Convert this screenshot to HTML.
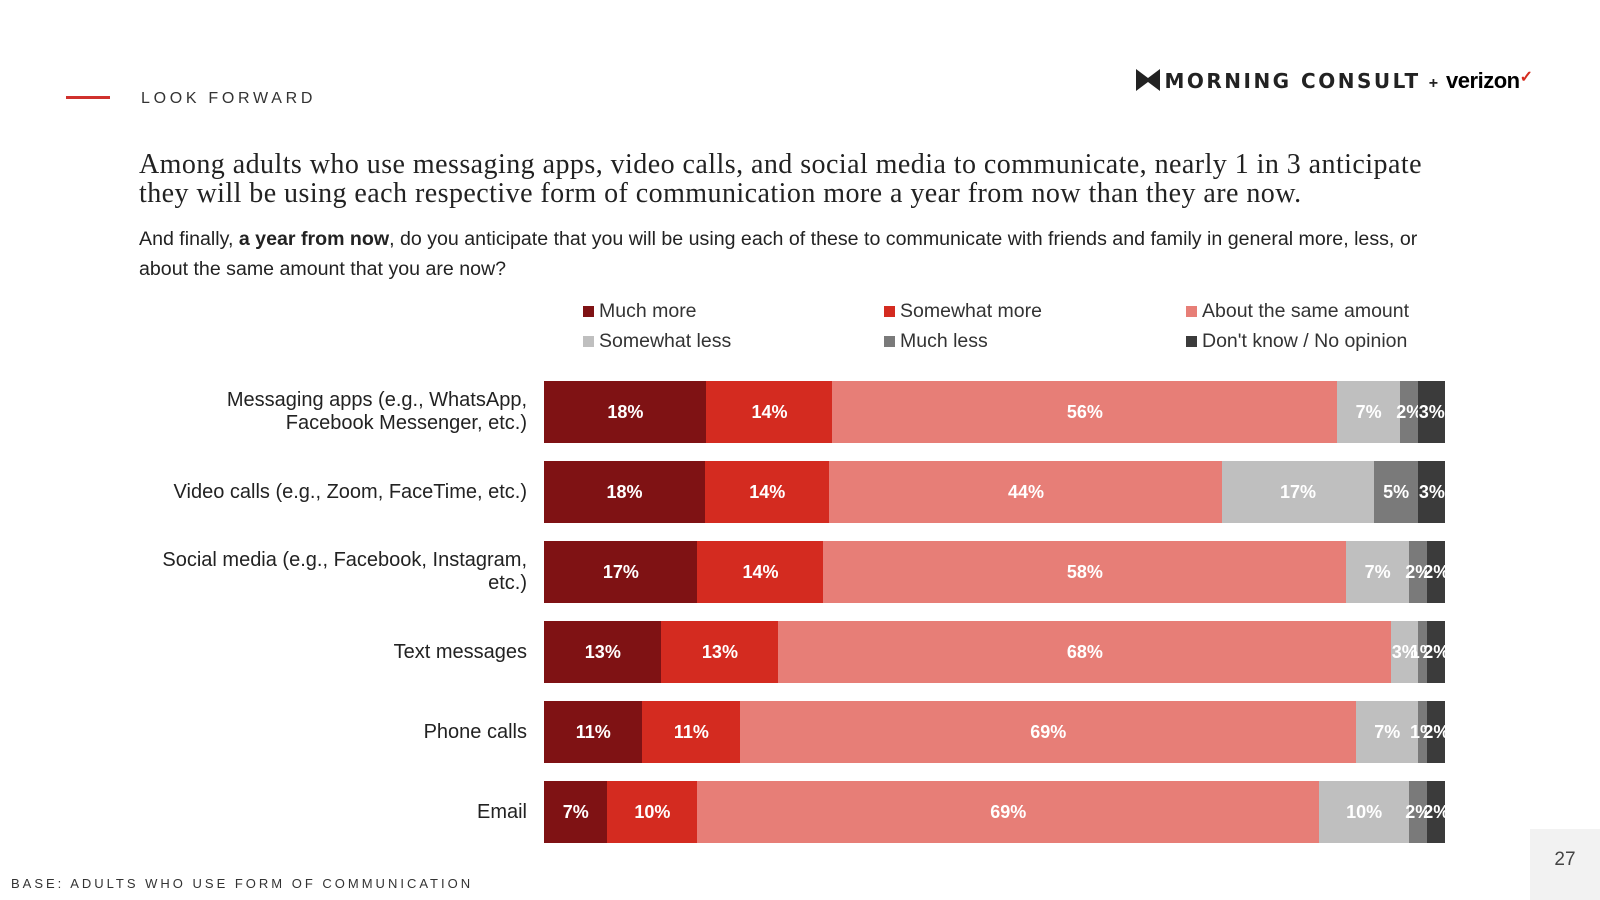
<!DOCTYPE html>
<html><head><meta charset="utf-8"><style>
body{margin:0;width:1600px;height:900px;background:#fff;position:relative;overflow:hidden;font-family:"Liberation Sans",Arial,sans-serif;color:#222}
.abs{position:absolute}
.lg{position:absolute;font-size:19.5px;color:#333;white-space:nowrap}
.lg i{display:inline-block;width:11px;height:11px;margin-right:5px;vertical-align:0px}
.cat{position:absolute;right:1073px;text-align:right;font-size:20px;color:#222;line-height:23px}
</style></head><body>
<div class="abs" style="left:66px;top:96px;width:44px;height:3px;background:#d0312d"></div>
<div class="abs" style="left:141px;top:90px;font-size:16px;letter-spacing:3.7px;color:#333">LOOK FORWARD</div>
<div class="abs" style="left:1136px;top:67px;white-space:nowrap;font-weight:bold;">
<svg width="24" height="22" viewBox="0 0 24 22" style="vertical-align:-3px"><path d="M0 0 L12 9 L24 0 V22 L12 13 L0 22Z" fill="#222"/></svg>
<span style="font-size:20px;letter-spacing:2.5px;color:#222;font-family:'DejaVu Sans',sans-serif">MORNING CONSULT</span><span style="font-size:16px;margin:0 8px">+</span><span style="font-size:22px;letter-spacing:-0.5px;color:#000">verizon</span><span style="color:#d52b1e;font-size:16px;vertical-align:6px">✓</span></div>
<div class="abs" style="left:139px;top:150px;width:1310px;font-family:'Liberation Serif',serif;font-size:28px;line-height:29px;letter-spacing:0.45px;color:#222">Among adults who use messaging apps, video calls, and social media to communicate, nearly 1 in 3 anticipate they will be using each respective form of communication more a year from now than they are now.</div>
<div class="abs" style="left:139px;top:224px;width:1310px;font-size:19.6px;line-height:30px;color:#222">And finally, <b>a year from now</b>, do you anticipate that you will be using each of these to communicate with friends and family in general more, less, or about the same amount that you are now?</div>
<div>
<div class="lg" style="left:583px;top:300px"><i style="background:#7f1214"></i>Much more</div>
<div class="lg" style="left:884px;top:300px"><i style="background:#d42b20"></i>Somewhat more</div>
<div class="lg" style="left:1186px;top:300px"><i style="background:#e77e77"></i>About the same amount</div>
<div class="lg" style="left:583px;top:330px"><i style="background:#bfbfbf"></i>Somewhat less</div>
<div class="lg" style="left:884px;top:330px"><i style="background:#7a7a7a"></i>Much less</div>
<div class="lg" style="left:1186px;top:330px"><i style="background:#3b3b3b"></i>Don't know / No opinion</div>
</div>
<div id="chart"></div>
<div class="abs" style="left:11px;top:876px;font-size:13px;letter-spacing:3px;color:#333">BASE: ADULTS WHO USE FORM OF COMMUNICATION</div>
<div class="abs" style="left:1530px;top:829px;width:70px;height:71px;background:#f2f2f2;font-size:19px;color:#444;text-align:center;line-height:62px">27</div>
<script>
const categories=["Messaging apps (e.g., WhatsApp,<br>Facebook Messenger, etc.)","Video calls (e.g., Zoom, FaceTime, etc.)","Social media (e.g., Facebook, Instagram,<br>etc.)","Text messages","Phone calls","Email"];
const muchMore=[18,18,17,13,11,7];
const somewhatMore=[14,14,14,13,11,10];
const sameAmount=[56,44,58,68,69,69];
const somewhatLess=[7,17,7,3,7,10];
const muchLess=[2,5,2,1,1,2];
const dontKnow=[3,3,2,2,2,2];
const series=[muchMore,somewhatMore,sameAmount,somewhatLess,muchLess,dontKnow];
const seriesNames=["much-more","somewhat-more","same","somewhat-less","much-less","dont-know"];
const colors=["#7f1214","#d42b20","#e77e77","#bfbfbf","#7a7a7a","#3b3b3b"];
const X0=544,W=901,Y0=381,PITCH=80,H=62;
const chart=document.getElementById('chart');
categories.forEach((c,i)=>{
  const total=series.reduce((s,a)=>s+a[i],0);
  const y=Y0+i*PITCH;
  const lab=document.createElement('div');
  lab.className='cat';
  
  
  lab.innerHTML=c;
  chart.appendChild(lab);
  const lines=c.split('<br>').length;
  lab.style.top=(y+H/2-lines*23/2)+'px';
  let acc=0;
  series.forEach((arr,k)=>{
    const v=arr[i];
    const x=X0+acc/total*W, w=v/total*W;
    acc+=v;
    const b=document.createElement('div');
    
    
    b.style.cssText=`position:absolute;left:${x}px;top:${y}px;width:${w+0.5}px;height:${H}px;background:${colors[k]};color:#fff;font-weight:bold;font-size:18px;line-height:${H}px;text-align:center;white-space:nowrap;overflow:visible;display:flex;justify-content:center`;
    b.innerHTML='<span>'+v+'%</span>';
    chart.appendChild(b);
  });
});
</script>
</body></html>
